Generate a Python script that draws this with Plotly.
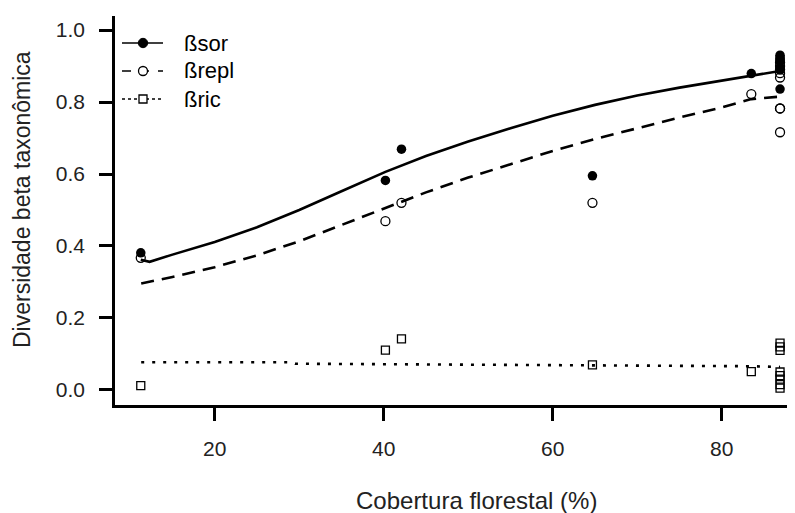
import plotly.graph_objects as go

# ---- data ----
cobertura = [11.25, 40.2, 42.1, 64.7, 83.5,
             86.9, 86.9, 86.9, 86.9, 86.9, 86.9, 86.9, 86.9]
b_sor = [0.381, 0.582, 0.669, 0.595, 0.879,
         0.836, 0.912, 0.892, 0.918, 0.920, 0.930, 0.895, 0.925]
b_repl = [0.367, 0.469, 0.520, 0.520, 0.822,
          0.716, 0.782, 0.782, 0.868, 0.880, 0.900, 0.890, 0.910]
b_ric = [0.012, 0.111, 0.142, 0.070, 0.051,
         0.120, 0.130, 0.110, 0.050, 0.040, 0.030, 0.005, 0.015]

fit_x_sor = [11.25, 12.3, 15.0, 20.0, 25.0, 30.0, 35.0, 40.2, 45.0, 50.0, 55.0,
             60.0, 65.0, 70.0, 75.0, 80.0, 83.5, 86.9]
fit_sor = [0.362, 0.356, 0.376, 0.411, 0.452, 0.500, 0.552, 0.606, 0.650, 0.690, 0.727,
           0.762, 0.792, 0.818, 0.840, 0.860, 0.873, 0.886]

fit_x_repl = [11.3, 15.0, 20.0, 25.0, 30.0, 35.0, 40.2, 45.0, 50.0, 55.0, 60.0,
              65.0, 70.0, 75.0, 80.0, 83.5, 86.9]
fit_repl = [0.296, 0.314, 0.341, 0.374, 0.413, 0.458, 0.505, 0.549, 0.590, 0.628, 0.664,
            0.697, 0.728, 0.757, 0.785, 0.808, 0.815]

fit_x_ric = [11.3, 29.0, 29.5, 64.7, 83.5, 86.9]
fit_ric = [0.077, 0.077, 0.073, 0.069, 0.066, 0.064]

legend_labels = ["ßsor", "ßrepl", "ßric"]
x_title = "Cobertura florestal (%)"
y_title = "Diversidade beta taxonômica"
y_ticks = [0.0, 0.2, 0.4, 0.6, 0.8, 1.0]
x_ticks = [20, 40, 60, 80]

FONT = "Liberation Sans, Arial, sans-serif"

# page body has an 8px margin: work in window pixels and convert
OFF = 8
FIG_W, FIG_H = 787, 505
PL, PT, PR, PB = 115, 16, 795, 405          # plot area in window pixels
PW, PH = PR - PL, PB - PT

def px(x):
    return (x - PL) / PW
def py(y):
    return (PB - y) / PH

fig = go.Figure()

# points
fig.add_trace(go.Scatter(x=cobertura, y=b_ric, mode="markers",
                         marker=dict(symbol="square-open", size=8, color="black",
                                     line=dict(width=1.3, color="black")),
                         showlegend=False))
fig.add_trace(go.Scatter(x=cobertura, y=b_repl, mode="markers",
                         marker=dict(symbol="circle-open", size=9, color="black",
                                     line=dict(width=1.3, color="black")),
                         showlegend=False))
fig.add_trace(go.Scatter(x=cobertura, y=b_sor, mode="markers",
                         marker=dict(symbol="circle", size=9.5, color="black"),
                         showlegend=False))

# fitted lines
fig.add_trace(go.Scatter(x=fit_x_sor, y=fit_sor, mode="lines",
                         line=dict(color="black", width=2.6),
                         showlegend=False))
fig.add_trace(go.Scatter(x=fit_x_repl, y=fit_repl, mode="lines",
                         line=dict(color="black", width=2.6, dash="13px,8px"),
                         showlegend=False))
fig.add_trace(go.Scatter(x=fit_x_ric, y=fit_ric, mode="lines",
                         line=dict(color="black", width=2.6, dash="3px,8px"),
                         showlegend=False))

# ---- manual legend (R style) ----
rows = [43, 71, 99]
dashes = ["solid", "dash", "dot"]
shapes = []
annotations = []
for i, (lab, ry) in enumerate(zip(legend_labels, rows)):
    shapes.append(dict(type="line", xref="paper", yref="paper",
                       x0=px(122), x1=px(163), y0=py(ry), y1=py(ry),
                       line=dict(color="black", width=1.4, dash=dashes[i])))
    common = dict(xref="paper", yref="paper", xsizemode="pixel", ysizemode="pixel",
                  xanchor=px(143), yanchor=py(ry))
    if i == 0:
        shapes.append(dict(type="circle", x0=-4.7, x1=4.7, y0=-4.7, y1=4.7,
                           fillcolor="black", line=dict(color="black", width=1), **common))
    elif i == 1:
        shapes.append(dict(type="circle", x0=-4.5, x1=4.5, y0=-4.5, y1=4.5,
                           fillcolor="white", line=dict(color="black", width=1.3), **common))
    else:
        shapes.append(dict(type="rect", x0=-4, x1=4, y0=-4, y1=4,
                           fillcolor="white", line=dict(color="black", width=1.3), **common))
    annotations.append(dict(text=lab, xref="paper", yref="paper",
                            x=px(182), y=py(ry), xanchor="left", yanchor="middle",
                            showarrow=False,
                            font=dict(family=FONT, size=22, color="black")))

# axis titles as annotations (positioned as in the reference)
annotations.append(dict(text=x_title, xref="paper", yref="paper",
                        x=px(476), y=py(500), xanchor="center", yanchor="middle",
                        showarrow=False, font=dict(family=FONT, size=24, color="#222")))
annotations.append(dict(text=y_title, xref="paper", yref="paper",
                        x=px(22), y=py(200), xanchor="center", yanchor="middle",
                        textangle=-90, showarrow=False,
                        font=dict(family=FONT, size=23, color="#222")))

fig.update_layout(
    width=FIG_W, height=FIG_H,
    margin=dict(l=PL - OFF, r=FIG_W - (PR - OFF), t=PT - OFF, b=FIG_H - (PB - OFF)),
    plot_bgcolor="white", paper_bgcolor="white",
    font=dict(family=FONT, size=21, color="#222"),
    shapes=shapes, annotations=annotations,
    xaxis=dict(range=[8.2, 88.67], tickvals=x_ticks, ticktext=[str(v) for v in x_ticks],
               showgrid=False, zeroline=False, showline=True, linecolor="black",
               linewidth=2.5, ticks="outside", ticklen=13, tickwidth=2.5,
               tickcolor="black", ticklabelstandoff=10,
               tickfont=dict(family=FONT, size=21, color="#222")),
    yaxis=dict(range=[-0.0417, 1.0389], tickvals=y_ticks,
               ticktext=[f"{v:.1f}" for v in y_ticks],
               showgrid=False, zeroline=False, showline=True, linecolor="black",
               linewidth=2.5, ticks="outside", ticklen=13, tickwidth=2.5,
               tickcolor="black", ticklabelstandoff=10,
               tickfont=dict(family=FONT, size=21, color="#222")),
)

fig.write_html("out.html")
